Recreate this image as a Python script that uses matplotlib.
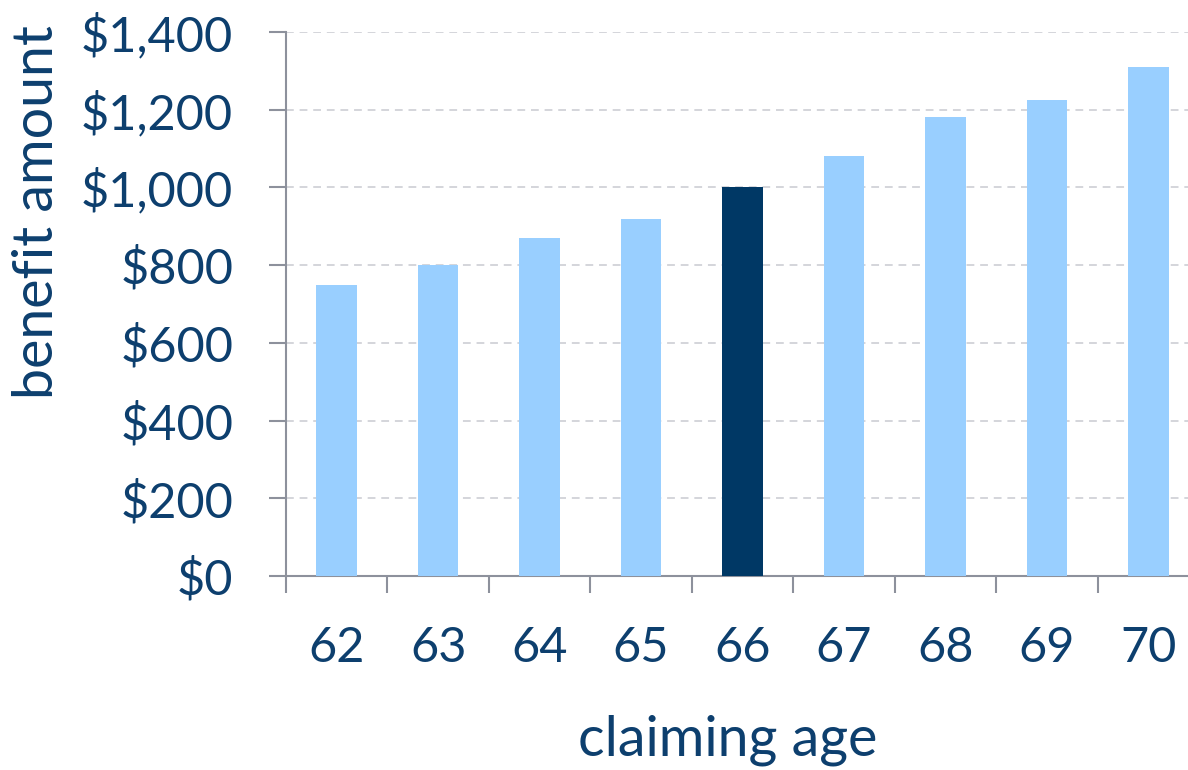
import numpy as np
import matplotlib
matplotlib.use("Agg")
import matplotlib.pyplot as plt
from matplotlib.ticker import FuncFormatter, FixedLocator

# data
ages = ["62", "63", "64", "65", "66", "67", "68", "69", "70"]
benefit = [750, 800, 870, 920, 1000, 1080, 1180, 1225, 1310]
highlight = "66"

navy = "#003865"
light = "#99cfff"
text_col = "#0d3f6e"
axis_col = "#8d919c"
grid_col = "#d4d5db"

plt.rcParams["font.family"] = ["Lato", "DejaVu Sans"]

fig = plt.figure(figsize=(11.88, 7.70), dpi=100)
ax = fig.add_axes([286 / 1188, 194 / 770, 913 / 1188, 544 / 770])

x = np.arange(len(ages))
colors = [navy if a == highlight else light for a in ages]
ax.bar(x, benefit, width=0.4, color=colors, zorder=3)

ax.set_xlim(-0.5, len(ages) - 0.5)
ax.set_ylim(0, 1400)
ax.set_yticks(np.arange(0, 1401, 200))
ax.yaxis.set_major_formatter(FuncFormatter(lambda v, p: "${:,.0f}".format(v)))

ax.set_xticks(x)
ax.set_xticklabels(ages)
ax.xaxis.set_minor_locator(FixedLocator(np.arange(-0.5, len(ages), 1.0)))

ax.grid(axis="y", color=grid_col, linestyle=(0, (4, 3)), linewidth=1.4, zorder=0)
ax.set_axisbelow(True)

for s in ["top", "right"]:
    ax.spines[s].set_visible(False)
for s in ["left", "bottom"]:
    ax.spines[s].set_color(axis_col)
    ax.spines[s].set_linewidth(1.5)

ax.tick_params(axis="y", which="major", length=12, width=1.5, color=axis_col,
               labelsize=35, labelcolor=text_col, pad=26)
ax.tick_params(axis="x", which="major", length=0, labelsize=35,
               labelcolor=text_col, pad=36)
ax.tick_params(axis="x", which="minor", length=12, width=1.5, color=axis_col)

fig.text(728 / 1188, 1 - 755 / 770, "claiming age", ha="center", va="baseline",
         fontsize=40, color=text_col)
fig.text(38 / 1188, 1 - 212 / 770, "benefit amount", ha="center", va="center",
         rotation=90, fontsize=40, color=text_col)

fig.savefig("out.png", dpi=100)
